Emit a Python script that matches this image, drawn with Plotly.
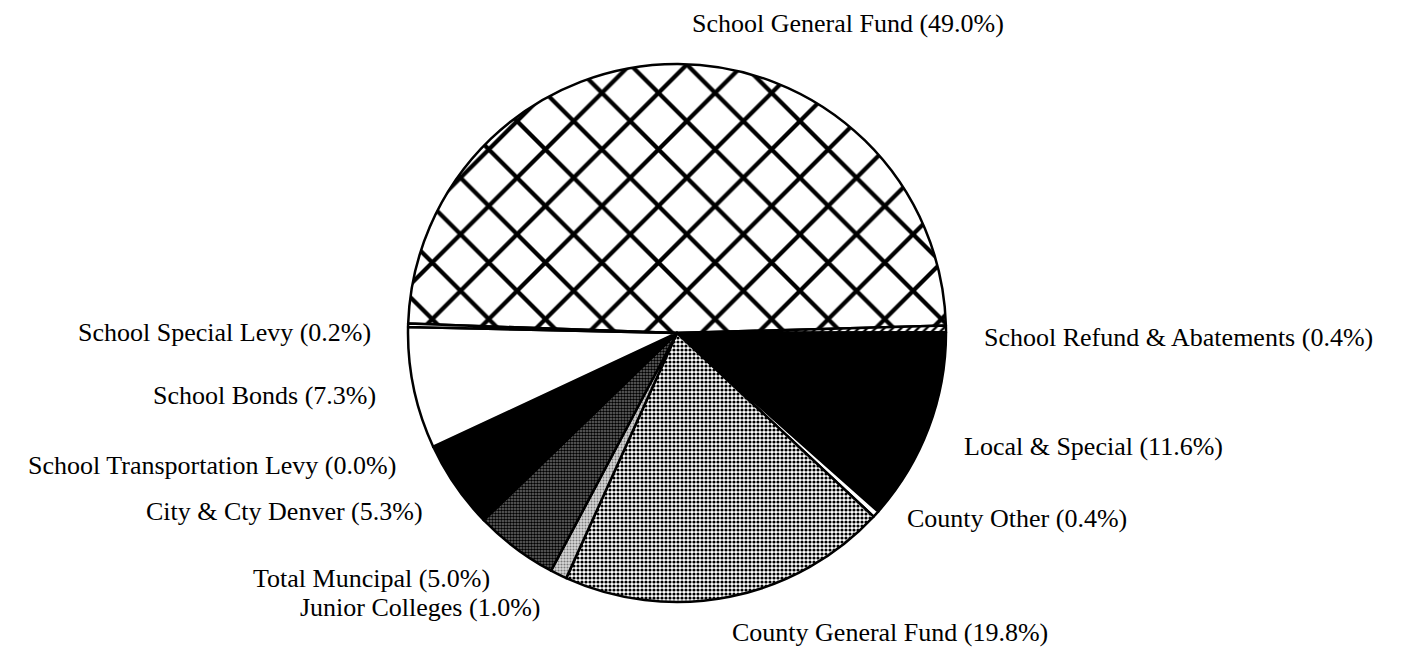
import plotly.graph_objects as go

# ---- data (clockwise from the School General Fund slice) ----
categories = [
    "School General Fund",
    "School Refund & Abatements",
    "Local & Special",
    "County Other",
    "County General Fund",
    "Junior Colleges",
    "Total Muncipal",
    "City & Cty Denver",
    "School Transportation Levy",
    "School Bonds",
    "School Special Levy",
]
percent_values = [49.0, 0.4, 11.6, 0.4, 19.8, 1.0, 5.0, 5.3, 0.0, 7.3, 0.2]

# ---- styles ----
fill_colors = ["white", "white", "black", "white", "white", "#d9d9d9",
               "#6e6e6e", "black", "white", "white", "white"]
pat_shapes = ["x", "/", "", "", ".", ".", ".", "", "", "", ""]
pat_fg = ["black", "black", "black", "black", "black", "#7a7a7a",
          "black", "black", "black", "black", "black"]
pat_bg = fill_colors
pat_size = [40, 6, 8, 8, 4, 3, 3, 8, 8, 8, 8]
pat_solid = [0.2, 0.4, 0.3, 0.3, 0.5, 0.4, 0.55, 0.3, 0.3, 0.3, 0.3]

# page offset (browser body margin) compensation
OFF = 8
W, H = 1410, 653

# label placement (pixel positions of the text in the target image, anchor side)
label_pos = [
    (848, 23, "center"),
    (982, 337, "left"),
    (962, 446, "left"),
    (905, 518, "left"),
    (730, 632, "left"),
    (542, 607, "right"),
    (492, 578, "right"),
    (425, 511, "right"),
    (398, 466, "right"),
    (378, 395, "right"),
    (373, 333, "right"),
]

# pie geometry (pixels in target image)
cx, cy, r = 677 - OFF, 333 - OFF, 269

fig = go.Figure(go.Pie(
    labels=categories,
    values=percent_values,
    sort=False,
    direction="clockwise",
    rotation=-88,
    textinfo="none",
    hoverinfo="label+value",
    showlegend=False,
    marker=dict(
        colors=fill_colors,
        line=dict(color="black", width=2.5),
        pattern=dict(shape=pat_shapes, fgcolor=pat_fg, bgcolor=pat_bg,
                     size=pat_size, solidity=pat_solid, fillmode="replace"),
    ),
    domain=dict(x=[(cx - r) / W, (cx + r) / W],
                y=[(H - cy - r) / H, (H - cy + r) / H]),
))

annotations = []
for name, val, (px, py, side) in zip(categories, percent_values, label_pos):
    annotations.append(dict(
        text=f"{name} ({val:.1f}%)",
        x=(px - OFF) / W, y=1 - (py - OFF) / H, xref="paper", yref="paper",
        xanchor=side, yanchor="middle", showarrow=False,
        font=dict(family="Liberation Serif", size=26, color="black"),
    ))

fig.update_layout(
    width=W, height=H,
    margin=dict(l=0, r=0, t=0, b=0),
    paper_bgcolor="white", plot_bgcolor="white",
    annotations=annotations,
)

fig.write_html("out.html")
